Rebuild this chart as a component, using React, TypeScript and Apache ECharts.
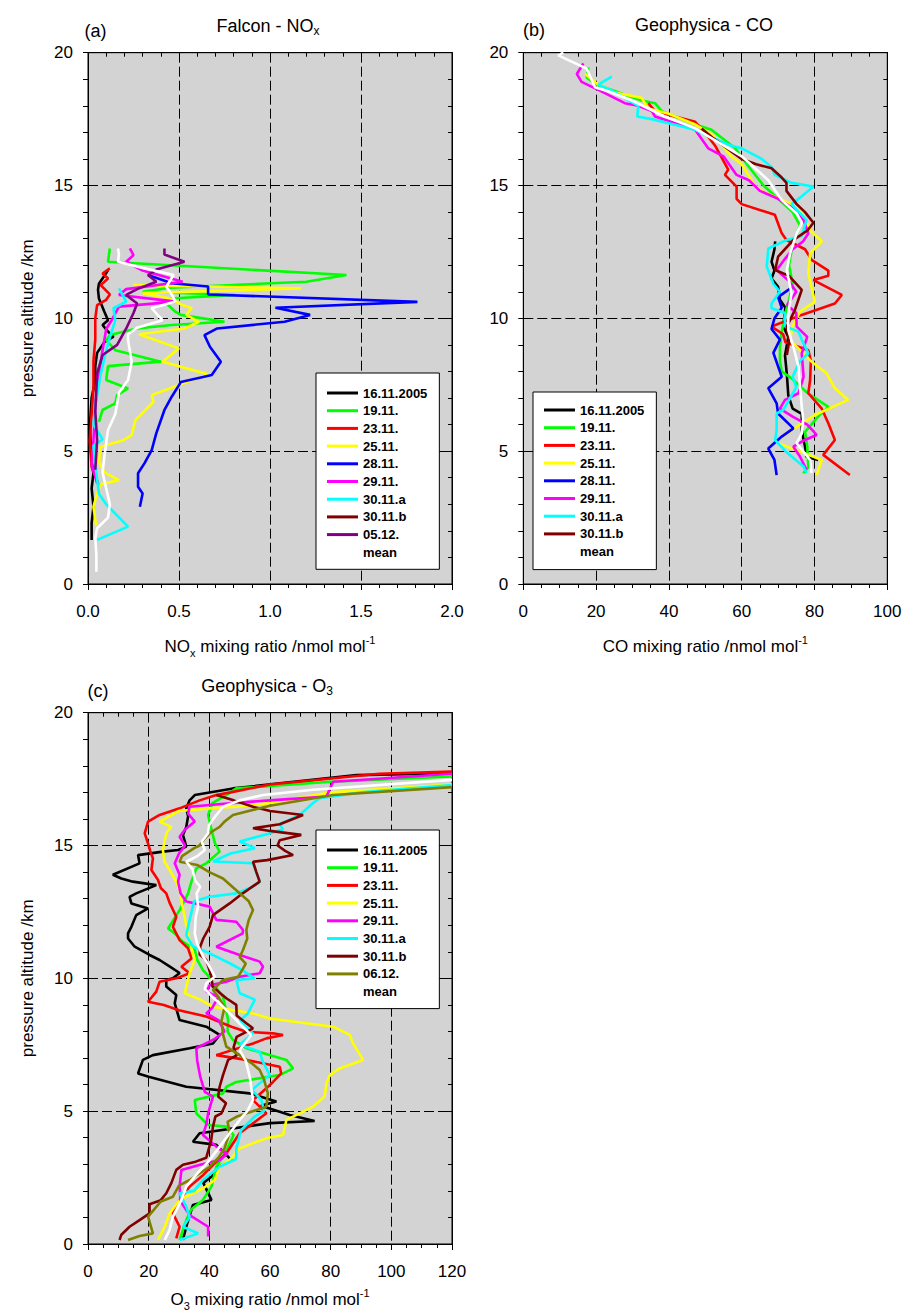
import React, { useEffect, useRef } from "react";
import * as echarts from "echarts";

const FONT = "'Liberation Sans', Arial, Helvetica, sans-serif";

// ---------- tick values ----------
const ALT_TICKS = [0, 5, 10, 15, 20];
const NOX_TICKS = [0, 0.5, 1.0, 1.5, 2.0];
const CO_TICKS = [0, 20, 40, 60, 80, 100];
const O3_TICKS = [0, 20, 40, 60, 80, 100, 120];

// ---------- legends ----------
const LEGEND_A = ["16.11.2005", "19.11.", "23.11.", "25.11.", "28.11.", "29.11.", "30.11.a", "30.11.b", "05.12.", "mean"];
const LEGEND_B = ["16.11.2005", "19.11.", "23.11.", "25.11.", "28.11.", "29.11.", "30.11.a", "30.11.b", "mean"];
const LEGEND_C = ["16.11.2005", "19.11.", "23.11.", "25.11.", "29.11.", "30.11.a", "30.11.b", "06.12.", "mean"];

// ---------- (a) Falcon NOx  [value nmol/mol, altitude km] ----------
const NOX_1611 = [[0.11,11.82],[0.09,11.6],[0.06,11.3],[0.055,11.07],[0.06,10.75],[0.09,10.25],[0.11,9.93],[0.08,9.75],[0.11,9.5],[0.14,9.31],[0.09,9.1],[0.05,8.7],[0.04,8.2],[0.04,7.68],[0.02,7.0],[0.01,5.9],[0.02,4.6],[0.03,4.17],[0.02,3.6],[0.03,2.91],[0.02,2.3],[0.02,1.66]];
const NOX_1911 = [[0.12,12.63],[0.11,12.13],[1.42,11.63],[1.2,11.38],[0.45,11.15],[0.3,11.0],[0.81,10.88],[0.45,10.75],[0.44,10.5],[0.48,10.25],[0.51,10.13],[0.75,9.87],[0.46,9.75],[0.27,9.62],[0.12,9.37],[0.1,9.18],[0.15,8.8],[0.4,8.37],[0.11,8.2],[0.1,7.68],[0.22,7.36],[0.16,7.11],[0.15,6.8],[0.08,6.55],[0.06,6.1]];
const NOX_2311 = [[0.12,11.88],[0.08,11.69],[0.11,11.5],[0.07,11.25],[0.12,10.9],[0.1,10.7],[0.05,10.5],[0.04,10.0],[0.04,9.2],[0.03,8.4],[0.03,7.4],[0.02,6.4],[0.01,5.4],[0.02,4.4],[0.05,3.9],[0.06,3.66]];
const NOX_2511 = [[0.25,11.25],[1.17,11.13],[0.3,10.95],[0.45,10.75],[0.52,10.5],[0.57,10.38],[0.54,10.13],[0.61,9.87],[0.53,9.62],[0.28,9.4],[0.5,8.87],[0.41,8.37],[0.66,7.9],[0.5,7.49],[0.35,7.11],[0.36,6.86],[0.26,6.17],[0.24,5.6],[0.19,5.4],[0.07,5.17],[0.06,4.6],[0.09,4.2],[0.17,3.91],[0.07,3.75],[0.05,3.41],[0.03,2.9],[0.045,2.2]];
const NOX_2811 = [[0.33,11.63],[0.46,11.32],[0.66,11.2],[0.66,10.9],[1.81,10.62],[1.03,10.4],[1.22,10.13],[1.08,9.87],[0.71,9.62],[0.64,9.37],[0.67,8.93],[0.73,8.37],[0.68,7.87],[0.51,7.6],[0.46,7.05],[0.42,6.55],[0.375,5.67],[0.35,5.04],[0.31,4.54],[0.275,4.17],[0.275,3.66],[0.3,3.41],[0.285,2.91]];
const NOX_2911 = [[0.23,12.63],[0.25,12.38],[0.21,12.13],[0.3,11.8],[0.52,11.38],[0.21,11.1],[0.17,10.88],[0.48,10.63],[0.17,10.44],[0.13,9.93],[0.1,9.6],[0.08,8.8],[0.06,7.9],[0.04,6.7],[0.03,5.4],[0.02,4.5],[0.05,3.8]];
const NOX_3011A = [[0.17,11.13],[0.19,10.88],[0.21,10.63],[0.14,10.38],[0.15,9.93],[0.13,9.5],[0.1,8.8],[0.07,7.9],[0.04,6.7],[0.03,6.0],[0.08,5.45],[0.03,5.2],[0.04,4.5],[0.06,3.4],[0.1,3.0],[0.22,2.16],[0.05,1.66]];
const NOX_0512 = [[0.42,12.63],[0.42,12.4],[0.53,12.13],[0.38,11.85],[0.33,11.63],[0.375,11.38],[0.27,11.1],[0.21,10.88],[0.27,10.56],[0.25,10.2],[0.21,9.62],[0.16,9.0],[0.08,8.62],[0.05,7.93],[0.04,6.5],[0.05,5.42],[0.04,4.3]];
const NOX_MEAN = [[0.165,12.63],[0.17,12.4],[0.165,12.13],[0.3,11.9],[0.47,11.63],[0.43,11.19],[0.46,10.9],[0.48,10.63],[0.35,10.38],[0.38,10.15],[0.41,9.93],[0.27,9.65],[0.22,9.4],[0.22,9.18],[0.24,8.37],[0.22,7.68],[0.17,7.2],[0.15,6.4],[0.11,5.8],[0.09,4.8],[0.08,4.2],[0.12,3.0],[0.11,2.5],[0.05,2.1],[0.04,1.72],[0.046,1.1],[0.046,0.46]];

// ---------- (b) Geophysica CO ----------
const CO_1611 = [[69.2,12.9],[69,12.6],[68.2,12.13],[69,11.8],[68.2,11.5],[70,11.19],[70.5,10.7],[72,10.4],[71.4,9.7],[72.8,9.3],[71.9,8.6],[72.4,7.9],[72.8,7.1],[74,6.6],[76.5,6.4],[76.5,5.8],[77.4,5.17],[77.8,4.79],[81,4.67]];
const CO_1911 = [[17.9,19.45],[17.4,19.07],[20,18.8],[32.5,18.2],[36.2,18.1],[38,17.8],[47.2,17.3],[51.7,17.1],[54.5,16.8],[58.2,16.4],[62,15.7],[66,15.0],[70,14.5],[74,14.0],[76,13.5],[74,12.8],[73,12.0],[74,11.3],[73,10.7],[72,10.2],[71,9.5],[70.5,8.9],[70.5,8.4],[71,8.0],[73.7,7.74],[78,7.2],[83.8,6.67],[81,6.3],[77.4,5.73],[78,5.2],[78.3,4.4],[76.9,4.17]];
const CO_2311 = [[34.3,18.1],[36.2,17.8],[47.2,17.4],[49.9,17.0],[52.7,16.5],[56.3,15.6],[55.4,15.4],[58.6,14.96],[58.6,14.5],[60,14.3],[69.1,13.9],[71,13.2],[72.3,12.95],[77.4,12.6],[79.2,12.2],[83.8,11.8],[83.8,11.6],[79.7,11.44],[87.5,10.88],[85.6,10.56],[76.5,10.13],[68.2,9.69],[71.4,9.4],[72,9.1],[78.3,8.8],[79,8.4],[78.8,7.68],[78.3,7.18],[82,6.6],[83.8,6.05],[85.6,5.42],[82.4,4.86],[89.7,4.1]];
const CO_2511 = [[17,19.2],[20.1,18.85],[25.2,18.5],[32.5,18.3],[34.3,17.9],[40,17.7],[47.2,17.3],[52,16.9],[57.2,16.1],[60,15.8],[63.6,15.0],[65.5,14.8],[73.7,14.3],[76.5,13.95],[79.2,13.26],[82,12.9],[78.8,12.45],[78.3,11.69],[80.1,10.63],[76,10.25],[74,9.7],[73.3,9.18],[74.2,9.06],[79.2,8.37],[83.3,7.93],[85.6,7.37],[89.3,6.93],[80.1,6.36],[76,6.0],[69.1,5.36],[72,5.2],[82,4.67],[80.6,4.1]];
const CO_2811 = [[74,11.2],[72.8,11.07],[70,10.8],[71,10.4],[69,10.0],[68.2,9.6],[70.5,9.2],[68.7,8.7],[71,7.8],[67.3,7.37],[69.6,6.8],[70,6.42],[74.2,5.86],[71,5.55],[67.3,5.1],[69,4.67],[69.6,4.1]];
const CO_2911 = [[16.5,19.6],[14.7,19.2],[16,18.9],[20.6,18.6],[27.9,18.1],[31.6,18.0],[35.3,17.8],[36.2,17.6],[47.2,17.1],[50.8,16.4],[55,16.1],[58.6,15.4],[62,15.2],[65,14.8],[70,14.5],[74.6,14.1],[77,13.7],[78.3,13.2],[76.9,12.9],[74,12.6],[72,12.26],[69.6,11.82],[73,11.4],[75,11.0],[72.5,10.5],[75,10.2],[75.1,9.69],[78,9.3],[76.5,8.68],[77,7.8],[75.6,7.18],[71.9,6.93],[70.5,6.6],[74,6.3],[78,6.0],[80.6,5.61],[77,5.4],[74.2,5.17],[76,4.8],[77.8,4.3]];
const CO_3011A = [[24.3,19.1],[20.6,18.8],[24,18.6],[31.6,18.0],[31.3,17.6],[35.3,17.5],[47.2,17.1],[52,16.8],[57.2,16.5],[60,16.4],[65.5,16.0],[68.2,15.7],[69.1,15.4],[73.7,15.1],[79.7,14.96],[76.5,14.6],[73.7,14.3],[77.8,13.7],[76.5,13.1],[72.4,12.95],[67.3,12.63],[66.9,11.94],[68.7,11.3],[70.5,11.0],[68.2,10.56],[68.2,10.38],[71.9,10.2],[71.9,9.7],[75.6,9.5],[76.5,9.2],[78.3,8.68],[76,8.4],[74,7.8],[75,7.4],[71.4,6.55],[69.6,6.42],[69.6,5.8],[69.2,5.42],[72,5.0],[77,4.42],[77.8,4.17]];
const CO_3011B = [[49,17.15],[52,16.8],[56,16.4],[60,16.0],[64,15.8],[68.2,15.65],[71,15.3],[72.3,15.1],[72.3,14.8],[75.1,14.3],[77.4,14.0],[79.7,13.6],[78,13.3],[74.2,12.95],[70,12.32],[69.2,11.82],[73,11.6],[76.5,11.07],[74.6,10.31],[72.4,9.69],[73,9.1],[72.4,8.62]];
const CO_MEAN = [[11,20],[9.6,19.9],[17.4,19.4],[19.7,18.7],[24.3,18.5],[29.8,18.2],[38.9,17.6],[47.2,17.15],[52.7,16.7],[60,16.1],[67.3,15.2],[71,14.45],[75.1,13.95],[76.5,13.6],[75.1,13.2],[73.3,12.45],[72.4,11.8],[73.7,10.94],[72.8,10.19],[72.8,9.56],[74.2,8.93],[75.6,8.18],[76,7.43],[76.5,6.68],[76.9,6.17],[76.5,5.67],[75.1,5.3],[78.8,4.67],[79.2,4.17]];

// ---------- (c) Geophysica O3 ----------
const O3_1611 = [[120,17.72],[88.5,17.65],[47.8,17.15],[35.2,16.9],[33.5,16.7],[32.4,16.4],[33,16.1],[32.4,15.7],[31.3,15.4],[32.4,14.96],[29.7,14.83],[24.7,14.77],[16.5,14.64],[17,14.33],[8.2,13.9],[11,13.76],[14.8,13.64],[22.5,13.51],[15.9,13.2],[13.7,13.07],[14.3,12.82],[19.8,12.63],[15.9,12.38],[14.3,11.94],[13.2,11.69],[13.2,11.5],[15.4,11.19],[20.3,10.88],[23.6,10.69],[27,10.44],[30.2,10.2],[28,10.0],[25.8,9.94],[25.8,9.69],[29.1,9.37],[28.6,9.06],[30.2,8.43],[39,8.18],[43.4,7.87],[41.2,7.55],[33.5,7.37],[21.4,7.11],[18.1,6.93],[16.5,6.42],[20,6.3],[32.4,5.92],[53.3,5.67],[62.1,5.36],[57,5.2],[63.2,4.98],[66.5,4.86],[74.7,4.63],[60,4.55],[36.8,4.17],[34.6,3.85],[42.3,3.73],[47.3,3.16],[43,2.9],[40.7,2.53],[38,2.3],[40.7,1.66],[34.6,1.47],[32.4,0.65],[31.3,0.15]];
const O3_1911 = [[120,17.6],[80,17.4],[48.9,17.15],[45.6,16.9],[41,16.6],[39.6,16.15],[40.5,15.7],[41.8,15.1],[43.4,14.77],[39,14.33],[35.7,14.14],[34.1,13.64],[33,13.2],[30.2,12.57],[26.4,11.88],[28.6,11.69],[31,11.4],[35.2,11.07],[36,10.7],[37.9,10.31],[39.6,10.1],[41.2,9.81],[44.5,9.31],[46.2,8.43],[46,8.0],[47.8,7.68],[52.2,7.37],[65.4,6.93],[67.6,6.61],[63.2,6.36],[48.9,6.1],[45.6,5.92],[44.5,5.67],[35.2,5.42],[35.7,4.92],[39.6,4.48],[45.6,4.42],[48,4.1],[46,3.6],[44,3.2],[42.3,2.91],[40.7,2.16],[37.9,1.66],[34,1.3],[32.4,0.9],[30.2,0.15]];
const O3_2311 = [[120,17.78],[96,17.7],[60,17.3],[47,17.0],[42.3,16.9],[36.8,16.7],[30.2,16.4],[23.6,16.15],[19.8,15.9],[18.7,15.46],[19.8,15.07],[20.5,14.8],[21.4,14.52],[20.9,14.08],[23.1,13.7],[24,13.4],[25.8,13.2],[27,12.82],[29.1,12.32],[28,11.94],[30.2,11.44],[33,11.13],[34.1,10.75],[30.8,10.44],[33.5,10.19],[29.1,10.0],[23.6,9.87],[22.5,9.5],[19.8,9.12],[25,9.0],[30,8.8],[39,8.56],[47.3,8.18],[52.2,7.99],[61,7.93],[64.3,7.87],[58.8,7.74],[54.4,7.55],[42.3,7.11],[52.2,6.93],[63.2,6.67],[63.7,6.42],[61,6.1],[58.8,5.86],[54.4,5.42],[56.6,5.17],[58.8,4.92],[50,4.17],[45.6,3.41],[41.8,3.04],[38,2.6],[33.5,2.16],[30.2,1.66],[28,1.15],[30.2,0.65],[29.1,0.21]];
const O3_2511 = [[120,17.3],[80,17.0],[60,16.6],[48.9,16.46],[40,16.4],[30,16.3],[23.6,15.9],[27.5,15.7],[26,15.5],[25.3,15.2],[24.7,14.83],[25.2,14.4],[26.9,14.08],[29.1,13.64],[30.2,13.33],[31,12.8],[32.4,12.0],[33.5,11.4],[34.6,10.94],[35.2,10.69],[33.5,10.19],[31.9,9.44],[37,9.2],[41.2,8.93],[54.4,8.68],[59.9,8.49],[80.8,8.18],[86.3,7.87],[87.4,7.55],[90.7,6.93],[83,6.61],[79.7,6.36],[78.6,6.05],[78,5.55],[74.2,5.17],[69.8,4.92],[65.4,4.67],[64.3,4.1],[58.8,3.98],[50,3.6],[46.7,3.16],[43.4,2.91],[41.8,2.41],[38,2.1],[34.6,1.91],[30.2,1.66],[26.9,1.15],[25.5,0.7],[24.2,0.4],[23.1,0.15]];
const O3_2911 = [[120,17.7],[80.8,17.4],[78.6,16.84],[60,16.7],[47.8,16.6],[33.5,16.46],[33,16.2],[35.2,15.9],[32,15.6],[30.2,15.33],[32,15.0],[30,14.7],[28.6,14.33],[30.2,13.9],[29.7,13.64],[30.5,13.2],[32.4,12.89],[40.1,12.7],[42.3,12.2],[48.9,12.13],[51.1,11.82],[51,11.69],[42.3,11.19],[50,10.88],[56.6,10.63],[57.7,10.44],[56.6,10.19],[50,10.06],[45.6,9.87],[40.1,9.74],[39,9.5],[43,9.3],[41,8.9],[39,8.68],[43,8.43],[45,8.0],[41.5,7.7],[35.7,7.37],[36,6.9],[37,6.3],[38.5,5.73],[41.2,5.55],[39.6,4.92],[39,4.5],[37.9,4.1],[43,3.6],[46,3.4],[43.4,3.16],[37,2.98],[30.8,2.79],[30.2,2.16],[30.5,1.6],[33.5,1.09],[39.6,0.65],[39.6,0.28]];
const O3_3011A = [[120,17.28],[90,17.0],[76.4,16.78],[74.2,16.6],[69.8,16.15],[63.2,15.8],[64.3,15.6],[58,15.4],[50,15.15],[55,14.9],[47,14.7],[41.2,14.4],[54.4,14.33],[56.6,13.64],[54.4,13.45],[48.9,13.2],[40.1,13.07],[35,12.9],[33.5,12.2],[32.4,11.63],[34.6,11.19],[38,11.05],[42.3,10.82],[47,10.55],[51,10.3],[54.9,10.0],[48.9,9.94],[50,9.44],[55,9.2],[52.7,8.68],[50,8.4],[54.4,7.93],[50,7.5],[56.6,7.24],[57.5,6.9],[59.9,6.36],[54,5.8],[57.2,5.42],[58,5.0],[55,4.8],[50.5,4.29],[48.9,3.6],[48.9,3.2],[43.4,2.91],[37.9,2.41],[35,2.0],[30.2,1.91],[32.4,1.41],[33.5,1.0],[31.3,0.65],[36.3,0.4],[30.2,0.15]];
const O3_3011B = [[42.3,16.9],[48,16.7],[54.4,16.46],[60,16.3],[70.9,16.15],[63.2,15.8],[54.4,15.65],[60,15.55],[70.3,15.4],[63.2,15.2],[62.5,15.0],[65,14.8],[67.6,14.64],[59,14.45],[54.4,14.39],[55.5,14.0],[56.6,13.64],[51,13.2],[46.7,12.82],[41.2,12.38],[40.1,11.94],[38,11.5],[37,11.2],[36.8,10.9],[39,10.69],[40.7,10.06],[41,9.7],[43,9.5],[45.6,9.25],[48.9,9.0],[49,8.6],[52.2,8.31],[54.4,8.12],[49,7.8],[48,7.4],[49,7.1],[46.2,6.93],[44.5,6.36],[43.4,5.92],[42.9,5.55],[45.5,5.3],[44,4.92],[42,4.8],[41.2,4.42],[40.6,3.9],[39,3.25],[35.5,3.1],[31.3,2.98],[29.1,2.79],[27.5,2.3],[25.8,1.91],[24,1.65],[20.3,1.5],[20.3,1.15],[17,0.9],[13.7,0.65],[11,0.35],[10.4,0.15]];
const O3_0612 = [[120,17.2],[80.8,16.9],[60,16.5],[47.8,16.15],[45,15.9],[43.4,15.7],[40.5,15.5],[38,15.2],[36.8,15.0],[35,14.9],[31,14.6],[30.2,14.39],[36,14.27],[40,14.0],[44.5,13.76],[50,13.2],[53,12.9],[54.4,12.57],[53,12.2],[52.2,11.82],[52.5,11.5],[51.1,11.07],[50,10.8],[52,10.55],[51,10.35],[49.5,10.06],[44.5,9.94],[41.2,9.56],[43,9.3],[45,8.9],[44,8.4],[44.5,7.9],[45.6,7.43],[50,7.11],[54,6.8],[56.6,6.55],[58,6.2],[59.3,5.67],[58.8,5.17],[48.9,4.79],[46,4.6],[46.7,4.2],[45,3.6],[43,3.25],[40,2.9],[33.5,2.41],[30,2.2],[28,1.78],[24,1.6],[19.8,1.03],[21.4,0.4],[17,0.3],[13.2,0.15]];
const O3_MEAN = [[120,17.47],[74.2,17.1],[57.7,16.9],[50,16.7],[44.5,16.46],[42,16.1],[39.9,15.77],[39.6,15.46],[37.5,15.15],[38.5,14.83],[36,14.6],[32.4,14.39],[34.5,14.1],[35.2,13.7],[37,13.45],[35.8,13.2],[36.3,12.7],[35.5,12.3],[35.2,11.69],[36,11.3],[37.9,10.82],[39.5,10.55],[40.7,10.31],[41.8,10.06],[39,9.81],[38.5,9.6],[41,9.3],[43.4,9.06],[46.7,8.68],[50,8.3],[53.8,7.87],[50,7.3],[52,6.9],[53.3,6.3],[53.8,5.9],[54.4,5.42],[52.5,5.0],[50,4.67],[46.7,4.17],[43,3.6],[40.1,3.16],[36,2.65],[32.4,2.16],[30.8,1.66],[28,1.03],[26.9,0.53],[25.3,0.15]];

// ---------- styles ----------
const COLORS: Record<string, string> = {
  "16.11.2005": "#000000",
  "19.11.": "#00ff00",
  "23.11.": "#ff0000",
  "25.11.": "#ffff00",
  "28.11.": "#0000ff",
  "29.11.": "#ff00ff",
  "30.11.a": "#00ffff",
  "30.11.b": "#800000",
  "05.12.": "#800080",
  "06.12.": "#808000",
  mean: "#ffffff",
};

const PANEL_SERIES: [string, number[][]][][] = [
  [["16.11.2005", NOX_1611], ["19.11.", NOX_1911], ["23.11.", NOX_2311], ["25.11.", NOX_2511], ["28.11.", NOX_2811], ["29.11.", NOX_2911], ["30.11.a", NOX_3011A], ["05.12.", NOX_0512], ["mean", NOX_MEAN]],
  [["16.11.2005", CO_1611], ["19.11.", CO_1911], ["23.11.", CO_2311], ["25.11.", CO_2511], ["28.11.", CO_2811], ["29.11.", CO_2911], ["30.11.a", CO_3011A], ["30.11.b", CO_3011B], ["mean", CO_MEAN]],
  [["16.11.2005", O3_1611], ["19.11.", O3_1911], ["23.11.", O3_2311], ["25.11.", O3_2511], ["29.11.", O3_2911], ["30.11.a", O3_3011A], ["30.11.b", O3_3011B], ["06.12.", O3_0612], ["mean", O3_MEAN]],
];

const RICH = {
  n: { fontSize: 17, lineHeight: 24, fontFamily: FONT, color: "#000" },
  sub: { fontSize: 11, lineHeight: 11, verticalAlign: "bottom", fontFamily: FONT, color: "#000" },
  sup: { fontSize: 11, lineHeight: 11, verticalAlign: "top", fontFamily: FONT, color: "#000" },
};

function buildOption() {
  const panels = [
    { grid: { left: 88, top: 52.7, width: 364, height: 531.3 }, ticks: NOX_TICKS, minor: 5, fmt: (v: number) => v.toFixed(1), xName: "{n|NO}{sub|x}{n| mixing ratio /nmol mol}{sup|-1}", xGap: 50, yName: "pressure altitude /km" },
    { grid: { left: 523.3, top: 52.7, width: 364, height: 531.3 }, ticks: CO_TICKS, minor: 4, fmt: (v: number) => String(v), xName: "{n|CO mixing ratio /nmol mol}{sup|-1}", xGap: 50, yName: "" },
    { grid: { left: 88, top: 712.7, width: 364, height: 531.3 }, ticks: O3_TICKS, minor: 4, fmt: (v: number) => String(v), xName: "{n|O}{sub|3}{n| mixing ratio /nmol mol}{sup|-1}", xGap: 43, yName: "pressure altitude /km" },
  ];

  const grid: any[] = [];
  const xAxis: any[] = [];
  const yAxis: any[] = [];
  const series: any[] = [];
  const black = { color: "#000", width: 1 };

  panels.forEach((p, gi) => {
    grid.push({ ...p.grid, show: true, backgroundColor: "#d3d3d3", borderColor: "#000", borderWidth: 1, containLabel: false, outerBoundsMode: "none" });
    const xMin = p.ticks[0];
    const xMax = p.ticks[p.ticks.length - 1];
    const xInt = p.ticks[1] - p.ticks[0];
    xAxis.push({
      type: "value", gridIndex: gi, position: "bottom", min: xMin, max: xMax, interval: xInt,
      axisLine: { show: true, onZero: false, lineStyle: black },
      axisTick: { show: true, inside: false, length: 6, lineStyle: black },
      minorTick: { show: true, splitNumber: p.minor, length: 4, lineStyle: black },
      axisLabel: { show: true, margin: 19, fontSize: 17, color: "#000", fontFamily: FONT, formatter: p.fmt },
      splitLine: { show: true, lineStyle: { color: "#000", width: 1, type: [10, 4] } },
      minorSplitLine: { show: false },
      name: p.xName, nameLocation: "middle", nameGap: p.xGap, nameMoveOverlap: false,
      nameTextStyle: { fontSize: 17, fontFamily: FONT, color: "#000", rich: RICH },
    });
    xAxis.push({
      type: "value", gridIndex: gi, position: "top", min: xMin, max: xMax, interval: xInt,
      axisLine: { show: true, onZero: false, lineStyle: black },
      axisTick: { show: true, inside: true, length: 4, lineStyle: black },
      minorTick: { show: true, splitNumber: p.minor, length: 4, lineStyle: black },
      axisLabel: { show: false }, splitLine: { show: false },
    });
    const yMin = ALT_TICKS[0];
    const yMax = ALT_TICKS[ALT_TICKS.length - 1];
    const yInt = ALT_TICKS[1] - ALT_TICKS[0];
    yAxis.push({
      type: "value", gridIndex: gi, position: "left", min: yMin, max: yMax, interval: yInt,
      axisLine: { show: true, onZero: false, lineStyle: black },
      axisTick: { show: true, inside: false, length: 5, lineStyle: black },
      minorTick: { show: true, splitNumber: 5, length: 5, lineStyle: black },
      axisLabel: { show: true, margin: 15, fontSize: 17, color: "#000", fontFamily: FONT },
      splitLine: { show: true, lineStyle: { color: "#000", width: 1, type: [10, 4] } },
      minorSplitLine: { show: false },
      name: p.yName, nameLocation: "middle", nameGap: 52, nameMoveOverlap: false,
      nameTextStyle: { fontSize: 17, fontFamily: FONT, color: "#000" },
    });
    yAxis.push({
      type: "value", gridIndex: gi, position: "right", min: yMin, max: yMax, interval: yInt,
      axisLine: { show: true, onZero: false, lineStyle: black },
      axisTick: { show: true, inside: true, length: 4, lineStyle: black },
      minorTick: { show: true, splitNumber: 5, length: 4, lineStyle: black },
      axisLabel: { show: false }, splitLine: { show: false },
    });
    PANEL_SERIES[gi].forEach(([name, data]) => {
      series.push({
        type: "line", name, data, xAxisIndex: gi * 2, yAxisIndex: gi * 2,
        symbol: "none", showSymbol: false, clip: true, silent: true,
        lineStyle: { color: COLORS[name], width: 2.6 },
        itemStyle: { color: COLORS[name] },
      });
    });
  });

  const legendBase = {
    orient: "vertical", icon: "rect", itemWidth: 31, itemHeight: 3, itemGap: 3.7,
    backgroundColor: "#ffffff", borderColor: "#000", borderWidth: 1, borderRadius: 0,
    selectedMode: false, itemStyle: { borderWidth: 0 },
    textStyle: { fontSize: 13, fontWeight: "bold", color: "#000", fontFamily: FONT, lineHeight: 14 },
  };
  const legend = [
    { ...legendBase, data: LEGEND_A, left: 316, top: 373, padding: [13, 12, 10, 11] },
    { ...legendBase, data: LEGEND_B, left: 533, top: 392, padding: [11, 12, 11, 11] },
    { ...legendBase, data: LEGEND_C, left: 316, top: 830, padding: [13, 12, 10, 11] },
  ];

  const titleRich = {
    n: { fontSize: 18, lineHeight: 22, fontFamily: FONT, fill: "#000" },
    sub: { fontSize: 12, lineHeight: 12, verticalAlign: "bottom", fontFamily: FONT, fill: "#000" },
  };
  const mkTitle = (x: number, y: number, text: string) => ({
    type: "text", x, y, silent: true,
    style: { text, rich: titleRich, fontSize: 18, fontFamily: FONT, fill: "#000", align: "center", verticalAlign: "middle" },
  });
  const mkLabel = (x: number, y: number, text: string) => ({
    type: "text", x, y, silent: true,
    style: { text, fontSize: 18, fontFamily: FONT, fill: "#000", align: "center", verticalAlign: "middle" },
  });

  const graphic = [
    mkLabel(95.5, 31, "(a)"),
    mkTitle(268, 25.5, "{n|Falcon - NO}{sub|x}"),
    mkLabel(534, 30, "(b)"),
    mkTitle(704, 24.5, "{n|Geophysica - CO}"),
    mkLabel(98, 691, "(c)"),
    mkTitle(267, 685.5, "{n|Geophysica - O}{sub|3}"),
  ];

  return { animation: false, backgroundColor: "#ffffff", grid, xAxis, yAxis, series, legend, graphic };
}

export default function App() {
  const ref = useRef<HTMLDivElement>(null);
  useEffect(() => {
    if (!ref.current) return;
    const chart = echarts.init(ref.current, undefined, { renderer: "svg" });
    chart.setOption(buildOption() as any);
    return () => chart.dispose();
  }, []);
  return <div ref={ref} style={{ position: "absolute", left: 0, top: 0, width: 906, height: 1312 }} />;
}
